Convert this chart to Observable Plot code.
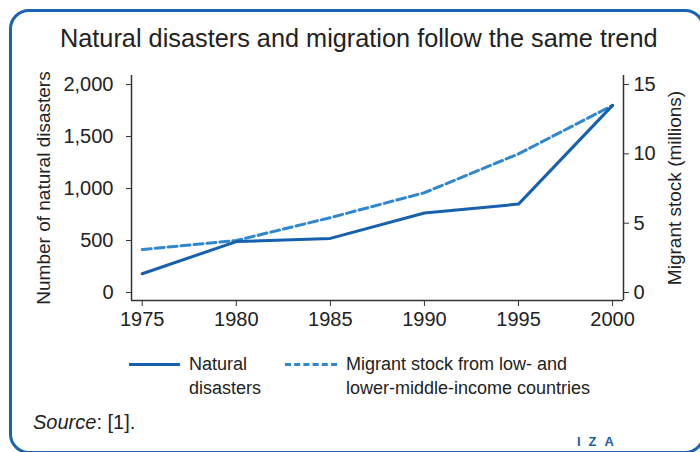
<!DOCTYPE html>
<html>
<head>
<meta charset="utf-8">
<script src="https://cdn.jsdelivr.net/npm/d3@7"></script>
<script src="https://cdn.jsdelivr.net/npm/@observablehq/plot@0.6"></script>
<style>
  html, body { margin: 0; padding: 0; background: #fff; }
  body { width: 700px; height: 452px; overflow: hidden; position: relative; font-family: "Liberation Sans", Arial, sans-serif; color: #222; }
  #frame { position: absolute; left: 9px; top: 9px; width: 690px; height: 439px; border: 3px solid #1a63b0; border-radius: 20px; }
  #title { position: absolute; left: 60px; top: 24px; font-size: 25.3px; white-space: nowrap; color: #222; }
  #chart { position: absolute; left: 0; top: 60px; }
  .leg { position: absolute; font-size: 18px; line-height: 24px; color: #222; white-space: nowrap; }
  .sw { position: absolute; height: 0; }
  #source { position: absolute; left: 33px; top: 411px; font-size: 20px; color: #222; }
  #iza { position: absolute; left: 577px; top: 434px; font-size: 13px; font-weight: bold; letter-spacing: 8px; color: #1a5ea8; }
</style>
</head>
<body>
<div id="frame"></div>
<div id="title">Natural disasters and migration follow the same trend</div>
<div id="chart"></div>
<div class="sw" style="left:129px; top:363px; width:51px; border-top:3px solid #1660ad;"></div>
<div class="leg" style="left:189px; top:352px;">Natural<br>disasters</div>
<div class="sw" style="left:285px; top:363px; width:52px; border-top:3px dashed #2e87cf;"></div>
<div class="leg" style="left:346px; top:352px;">Migrant stock from low- and<br>lower-middle-income countries</div>
<div id="source"><i>Source</i>: [1].</div>
<div id="iza">IZA</div>
<script>
const years = [1975, 1980, 1985, 1990, 1995, 2000];
const disasters = [180, 490, 520, 765, 850, 1800];
const migrants = [3.1, 3.75, 5.4, 7.2, 10.0, 13.5];
const leftTicks = [0, 500, 1000, 1500, 2000];
const rightTicks = [0, 5, 10, 15];

const k = 2000 / 15; // right-axis millions -> left-axis units
const xDom = [1974.43, 2000.58];
const yDom = [-77, 2087];

const rows = years.map((y, i) => ({year: y, disasters: disasters[i], migrantsScaled: migrants[i] * k}));

const chart = Plot.plot({
  width: 700,
  height: 280,
  marginLeft: 131,
  marginRight: 77,
  marginTop: 15,
  marginBottom: 40,
  x: {domain: xDom},
  y: {domain: yDom},
  style: {fontFamily: "Liberation Sans, Arial, sans-serif", fontSize: "20px", color: "#222", background: "transparent"},
  marks: [
    Plot.axisX({ticks: years, tickFormat: d => String(d), tickSize: 6, tickPadding: 5, label: null, stroke: "#333"}),
    Plot.axisY({ticks: leftTicks, tickFormat: d3.format(","), tickSize: 5, tickPadding: 13, label: null, stroke: "#333"}),
    Plot.axisY({ticks: [], label: "Number of natural disasters", labelAnchor: "center", labelArrow: "none", labelOffset: 95, fontSize: 19}),
    Plot.axisY({anchor: "right", ticks: rightTicks.map(v => v * k), tickFormat: d => String(Math.round(d / k)),
      tickSize: 5, tickPadding: 5, label: null, stroke: "#333"}),
    Plot.axisY({anchor: "right", ticks: [], label: "Migrant stock (millions)", labelAnchor: "center", labelArrow: "none", labelOffset: 57, fontSize: 19}),
    Plot.ruleX([xDom[0]], {stroke: "#333", strokeWidth: 1.5}),
    Plot.ruleX([xDom[1]], {stroke: "#333", strokeWidth: 1.5}),
    Plot.ruleY([yDom[0]], {stroke: "#333", strokeWidth: 1.5}),
    Plot.line(rows, {x: "year", y: "migrantsScaled", stroke: "#2e87cf", strokeWidth: 3, strokeDasharray: "9,4"}),
    Plot.line(rows, {x: "year", y: "disasters", stroke: "#1660ad", strokeWidth: 3})
  ]
});
document.getElementById("chart").appendChild(chart);
</script>
</body>
</html>
